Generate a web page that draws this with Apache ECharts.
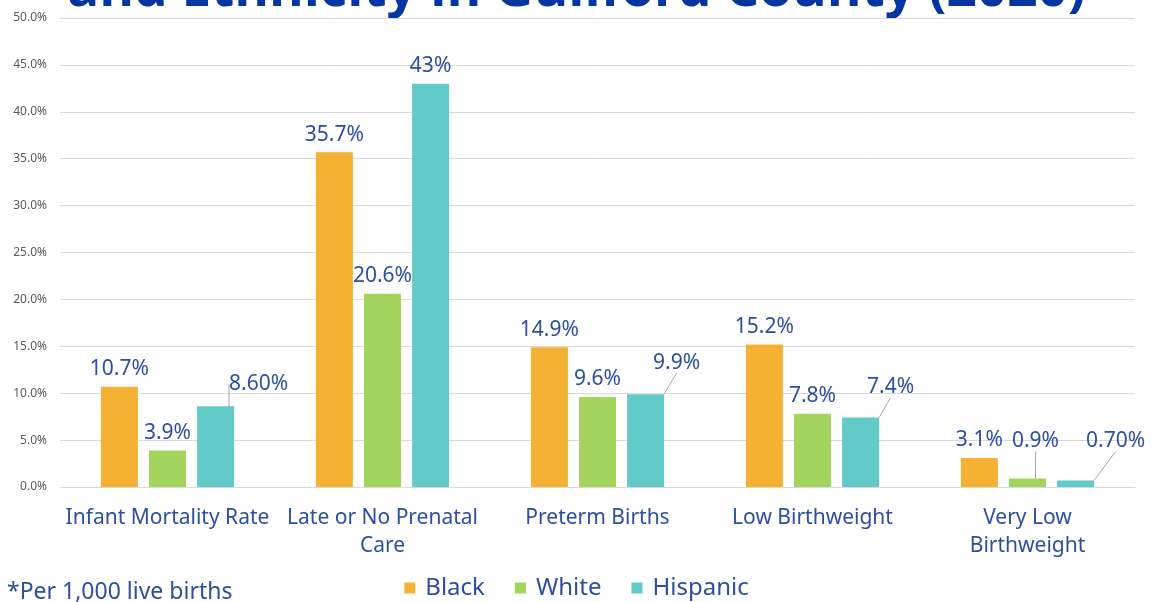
<!DOCTYPE html>
<html>
<head>
<meta charset="utf-8">
<script src="https://cdn.jsdelivr.net/npm/echarts@6/dist/echarts.min.js"></script>
<style>
html,body{margin:0;padding:0;background:#fff;}
#chart{width:1153px;height:602px;}
</style>
</head>
<body>
<div id="chart"></div>
<script>
const categories = ['Infant Mortality Rate', 'Late or No Prenatal\nCare', 'Preterm Births', 'Low Birthweight', 'Very Low\nBirthweight'];
const seriesNames = ['Black', 'White', 'Hispanic'];
const blackValues = [10.7, 35.7, 14.9, 15.2, 3.1];
const whiteValues = [3.9, 20.6, 9.6, 7.8, 0.9];
const hispanicValues = [8.6, 43, 9.9, 7.4, 0.7];
const blackLabels = ['10.7%', '35.7%', '14.9%', '15.2%', '3.1%'];
const whiteLabels = ['3.9%', '20.6%', '9.6%', '7.8%', '0.9%'];
const hispanicLabels = ['8.60%', '43%', '9.9%', '7.4%', '0.70%'];
const yTicks = [0, 5, 10, 15, 20, 25, 30, 35, 40, 45, 50];
const titleText = 'and Ethnicity in Guilford County (2020)';
const footnote = '*Per 1,000 live births';

// label shifts (style) for labels drawn with leader lines: [seriesIndex][dataIndex] -> [dx, dy]
const labelShift = {
  1: {4: [8, -20]},
  2: {0: [43, -5], 2: [31, -14], 3: [30, -13], 4: [40, -22]}
};

const colors = ['#F4B133', '#A3D45E', '#62CAC8'];
const blue = '#2D4FA1';
const font = '"Noto Sans"';

function makeData(values, sIdx) {
  return values.map((v, i) => {
    const shifted = labelShift[sIdx] && labelShift[sIdx][i];
    return shifted ? {value: v, labelLine: {show: true}} : {value: v};
  });
}

const labelArrays = [blackLabels, whiteLabels, hispanicLabels];
const valueArrays = [blackValues, whiteValues, hispanicValues];

const chart = echarts.init(document.getElementById('chart'));
chart.setOption({
  animation: false,
  color: colors,
  grid: {left: 60, right: 18, top: 18, bottom: 115, containLabel: false},
  graphic: [
    {type: 'text', left: 'center', top: -36, style: {text: titleText, font: 'bold 53px "Open Sans"', fill: '#0535A0'}},
    {type: 'text', left: 7, top: 581, style: {text: footnote, font: '23px ' + font, fill: blue}}
  ],
  legend: {
    data: seriesNames,
    left: 'center',
    top: 571,
    icon: 'rect',
    itemWidth: 11,
    itemHeight: 11,
    itemGap: 30,
    textStyle: {fontFamily: 'Noto Sans', fontSize: 24, color: blue, padding: [0, 0, 0, 5]}
  },
  xAxis: {
    type: 'category',
    data: categories,
    axisLine: {lineStyle: {color: '#D9D9D9', width: 1}},
    axisTick: {show: false},
    axisLabel: {fontFamily: 'Noto Sans', fontSize: 21, color: blue, margin: 17, lineHeight: 28, interval: 0}
  },
  yAxis: {
    type: 'value',
    min: yTicks[0],
    max: yTicks[yTicks.length - 1],
    interval: yTicks[1] - yTicks[0],
    axisLine: {show: false},
    axisTick: {show: false},
    splitLine: {lineStyle: {color: '#D9D9D9', width: 1}},
    axisLabel: {fontFamily: 'Noto Sans', fontSize: 12, color: '#595959', margin: 13, formatter: v => v.toFixed(1) + '%'}
  },
  series: seriesNames.map((name, s) => ({
    name: name,
    type: 'bar',
    data: makeData(valueArrays[s], s),
    barWidth: 37,
    barGap: '30%',
    itemStyle: {color: colors[s]},
    label: {
      show: true,
      position: 'top',
      distance: 7,
      fontFamily: 'Noto Sans',
      fontSize: 21,
      color: blue,
      formatter: p => labelArrays[s][p.dataIndex]
    },
    labelLine: {show: false, lineStyle: {color: '#A6A6A6', width: 1}},
    labelLayout: function (p) {
      const sh = labelShift[s] && labelShift[s][p.dataIndex];
      return sh ? {dx: sh[0], dy: sh[1]} : {};
    }
  }))
});
</script>
</body>
</html>
